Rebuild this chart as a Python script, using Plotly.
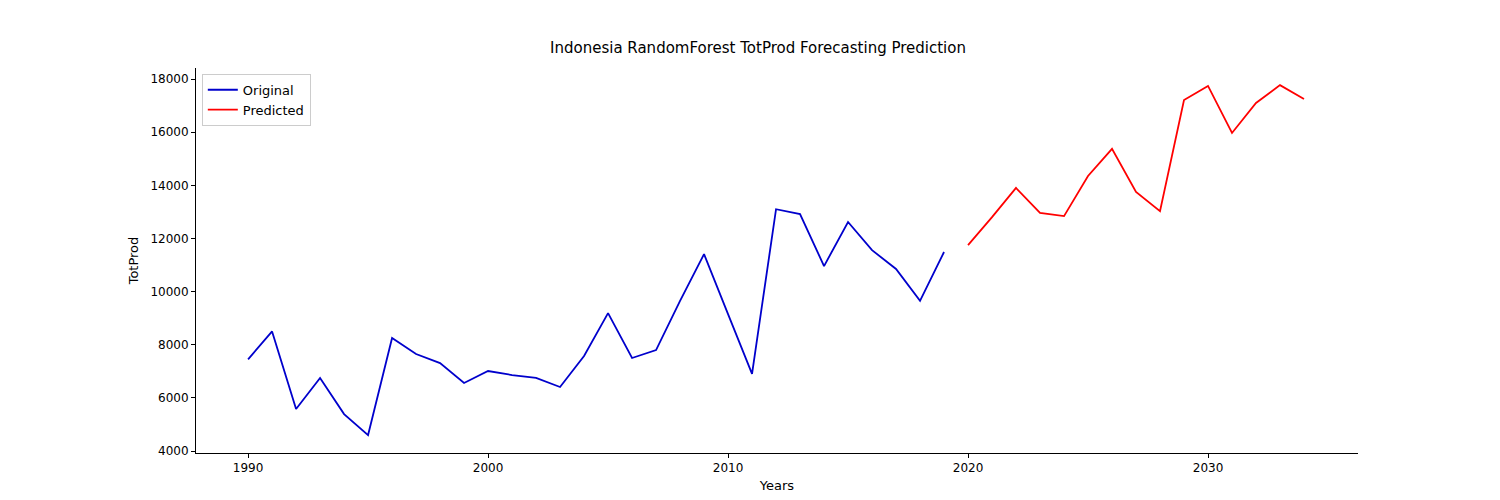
import plotly.graph_objects as go

years_orig = list(range(1990, 2020))
totprod_orig = [7450, 8500, 5580, 6750, 5390, 4600, 8250, 7650, 7310, 6560,
                7010, 6860, 6750, 6410, 7575, 9190, 7500, 7800, 9650, 11410,
                9150, 6900, 13100, 12920, 10960, 12620, 11560, 10850, 9650, 11490]
years_pred = list(range(2020, 2035))
totprod_pred = [11750, 12800, 13900, 12960, 12840, 14350, 15370, 13750, 13030,
                17210, 17740, 15970, 17100, 17770, 17250]

fig = go.Figure()
fig.add_trace(go.Scatter(x=years_orig, y=totprod_orig, mode="lines", name="Original",
                         line=dict(color="#0000cc", width=1.8)))
fig.add_trace(go.Scatter(x=years_pred, y=totprod_pred, mode="lines", name="Predicted",
                         line=dict(color="#ff0000", width=1.8)))

axis_style = dict(showgrid=False, zeroline=False, showline=True, linecolor="black",
                  linewidth=1, ticks="outside", ticklen=4, tickcolor="black",
                  automargin=False, tickfont=dict(size=12, color="black"))
fig.update_layout(
    width=1500, height=500,
    paper_bgcolor="white", plot_bgcolor="white",
    margin=dict(l=188, r=150, t=60, b=55),
    font=dict(family="DejaVu Sans", color="black"),
    title=dict(text="Indonesia RandomForest TotProd Forecasting Prediction",
               x=0.5, xanchor="center", y=0.92, yanchor="middle", font=dict(size=15)),
    xaxis=dict(title=dict(text="Years", font=dict(size=13), standoff=6),
               range=[1987.83, 2036.25], tickvals=[1990, 2000, 2010, 2020, 2030], **axis_style),
    yaxis=dict(title=dict(text="TotProd", font=dict(size=13), standoff=8),
               range=[3925, 18415], tickvals=list(range(4000, 18001, 2000)),
               tickformat="d", **axis_style),
    legend=dict(x=0.005, y=0.985, xanchor="left", yanchor="top", bgcolor="white",
                bordercolor="#cccccc", borderwidth=1, font=dict(size=13)),
)
fig.write_html("out.html")
